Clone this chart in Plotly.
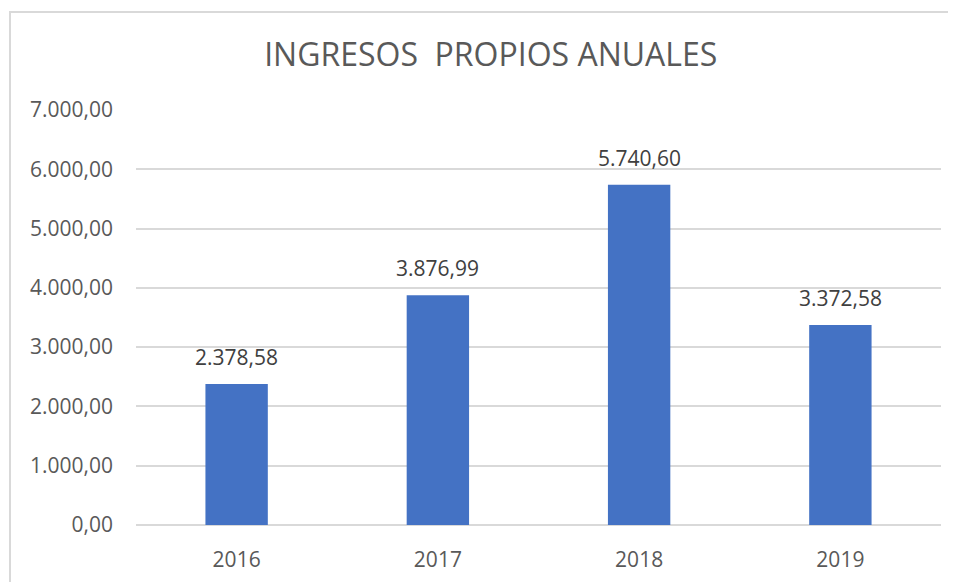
import plotly.graph_objects as go

years = ["2016", "2017", "2018", "2019"]
ingresos = [2378.58, 3876.99, 5740.60, 3372.58]
y_ticks = [0, 1000, 2000, 3000, 4000, 5000, 6000, 7000]

GRAY = "#595959"
FONT = "Open Sans"


def fmt_es(v):
    # 5740.6 -> "5.740,60"
    s = f"{v:,.2f}"
    return s.replace(",", "X").replace(".", ",").replace("X", ".")


fig = go.Figure()
fig.add_trace(go.Bar(
    x=years,
    y=ingresos,
    marker=dict(color="#4472C4", line=dict(width=0)),
    hoverinfo="x+y",
))

# data labels sit well above the bars, like the Excel original
# (category axis -> annotations use the category index)
for i, val in enumerate(ingresos):
    fig.add_annotation(
        x=i, y=val, text=fmt_es(val),
        showarrow=False, yanchor="bottom", yshift=11,
        font=dict(family=FONT, size=21, color="#404040"),
    )

fig.update_layout(
    width=956, height=582,
    separators=",.",
    paper_bgcolor="white",
    plot_bgcolor="white",
    showlegend=False,
    bargap=0.69,
    margin=dict(l=128, r=23, t=102, b=65),
    title=dict(
        text="INGRESOS\u00a0 PROPIOS ANUALES",
        x=0.505, xanchor="center",
        y=0.919, yanchor="middle",
        font=dict(family=FONT, size=32, color=GRAY),
    ),
    shapes=[dict(
        type="rect", xref="paper", yref="paper",
        x0=-0.1565, x1=1.05, y0=-0.3, y1=1.236,
        line=dict(color="#D9D9D9", width=2),
        layer="below",
    )],
)

fig.update_xaxes(
    type="category",
    range=[-0.5, len(years) - 0.5],
    showgrid=False, showline=False, ticks="",
    ticklabelstandoff=20,
    tickfont=dict(family=FONT, size=21, color=GRAY),
)
fig.update_yaxes(
    range=[0, 7000],
    tickvals=y_ticks,
    tickformat=",.2f",
    showgrid=True, gridcolor="#D9D9D9", gridwidth=2,
    zeroline=True, zerolinecolor="#D9D9D9", zerolinewidth=2,
    showline=False, ticks="",
    ticklabelstandoff=22,
    tickfont=dict(family=FONT, size=21, color=GRAY),
)

fig.write_html("out.html")
